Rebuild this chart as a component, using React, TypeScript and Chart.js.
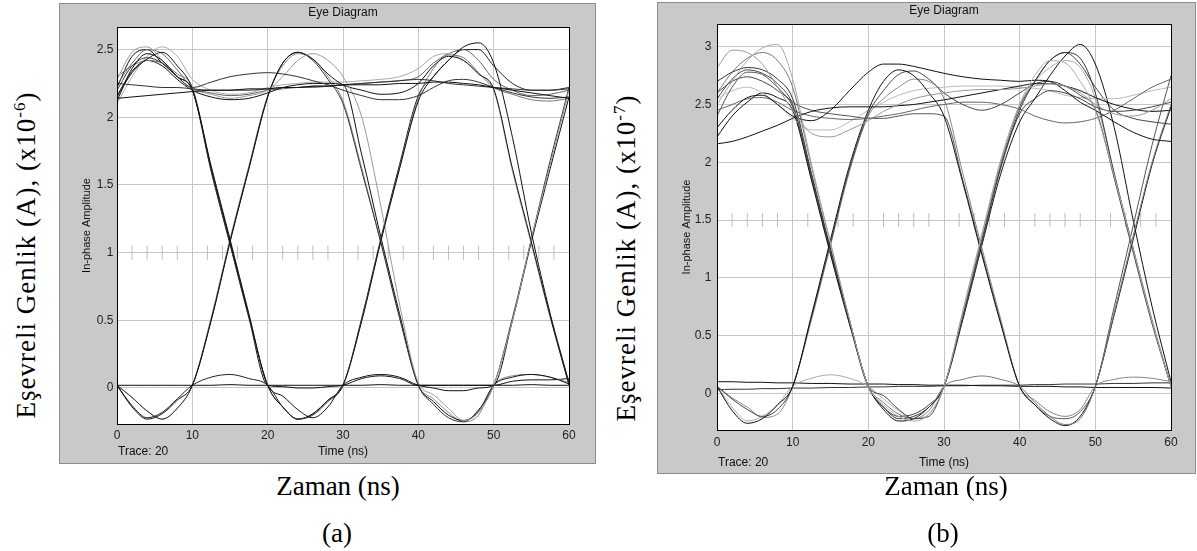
import React, { useEffect, useRef } from "react";
import { Chart, registerables } from "chart.js";

Chart.register(...registerables);

// ---------------- data ----------------
const timeNs = [0, 2, 4, 6, 8, 10, 12.5, 15, 17.5, 20, 22, 24, 26, 28, 30, 32.5, 35, 37.5, 40, 42, 44, 46, 48, 50, 52.5, 55, 57.5, 60];
const timeTicks = [0, 10, 20, 30, 40, 50, 60];
const amplitudeTicksA = [0, 0.5, 1, 1.5, 2, 2.5];
const amplitudeTicksB = [0, 0.5, 1, 1.5, 2, 2.5, 3];
const decisionMarksNs = [2, 4, 6, 8, 12, 14, 16, 18, 22, 24, 26, 28, 32, 34, 36, 38, 42, 44, 46, 48, 52, 54, 56, 58];
const decisionLevelA = 1;
const decisionLevelB = 1.5;

// panel (a) traces (x10^-6 A)
const traceA01 = [2.14, 2.15, 2.16, 2.17, 2.18, 2.19, 2.2, 2.2, 2.21, 2.21, 2.22, 2.22, 2.23, 2.23, 2.24, 2.24, 2.24, 2.25, 2.25, 2.26, 2.26, 2.25, 2.24, 2.22, 2.2, 2.18, 2.16, 2.14];
const traceA02 = [2.25, 2.24, 2.23, 2.22, 2.22, 2.21, 2.2, 2.2, 2.2, 2.21, 2.22, 2.22, 2.23, 2.23, 2.24, 2.25, 2.26, 2.27, 2.28, 2.27, 2.25, 2.24, 2.23, 2.22, 2.21, 2.2, 2.2, 2.21];
const traceA03 = [0.02, 0.02, 0.02, 0.02, 0.02, 0.02, 0.02, 0.025, 0.02, 0.02, 0.02, 0.02, 0.02, 0.02, 0.02, 0.02, 0.025, 0.02, 0.02, 0.02, 0.02, 0.02, 0.02, 0.02, 0.02, 0.025, 0.02, 0.02];
const traceA04 = [2.2, 2.38, 2.44, 2.4, 2.3, 2.22, 2.26, 2.3, 2.32, 2.33, 2.32, 2.3, 2.27, 2.24, 2.2, 2.16, 2.13, 2.13, 2.16, 2.22, 2.27, 2.28, 2.26, 2.22, 2.18, 2.15, 2.14, 2.15];
const traceA05 = [2.12, 2.36, 2.47, 2.42, 2.3, 2.2, 1.62, 1.08, 0.53, 0.02, -0.14, -0.23, -0.19, -0.09, 0.02, 0.5, 1.08, 1.62, 2.12, 2.3, 2.42, 2.52, 2.55, 2.4, 1.85, 1.15, 0.55, 0.04];
const traceA06 = [2.28, 2.48, 2.52, 2.42, 2.3, 2.21, 2.17, 2.14, 2.16, 2.2, 2.3, 2.42, 2.47, 2.42, 2.3, 2.0, 1.35, 0.62, 0.04, -0.05, -0.15, -0.24, -0.18, 0.02, 0.5, 1.1, 1.65, 2.2];
const traceA07 = [0.02, -0.14, -0.23, -0.19, -0.09, 0.02, 0.5, 1.08, 1.62, 2.15, 2.4, 2.48, 2.43, 2.32, 2.24, 2.2, 2.17, 2.18, 2.25, 2.38, 2.45, 2.42, 2.32, 2.21, 1.62, 1.08, 0.53, 0.02];
const traceA08 = [0.02, -0.07, -0.17, -0.23, -0.15, 0.02, 0.5, 1.08, 1.62, 2.15, 2.4, 2.48, 2.42, 2.28, 2.1, 1.6, 1.08, 0.52, 0.02, -0.12, -0.22, -0.25, -0.16, 0.02, 0.52, 1.1, 1.68, 2.22];
const traceA09 = [2.15, 2.33, 2.43, 2.48, 2.38, 2.21, 1.64, 1.1, 0.55, 0.02, -0.06, -0.16, -0.22, -0.14, 0.02, 0.08, 0.1, 0.08, 0.02, 0.0, -0.02, -0.02, 0.0, 0.02, 0.5, 1.08, 1.62, 2.15];
const traceA10 = [2.3, 2.38, 2.42, 2.4, 2.32, 2.22, 1.62, 1.08, 0.53, 0.02, -0.14, -0.23, -0.19, -0.09, 0.02, 0.5, 1.08, 1.62, 2.14, 2.36, 2.46, 2.44, 2.33, 2.22, 2.17, 2.13, 2.12, 2.14];
const traceA11 = [2.1, 2.3, 2.45, 2.52, 2.45, 2.28, 2.2, 2.17, 2.18, 2.22, 2.24, 2.25, 2.26, 2.26, 2.26, 2.27, 2.28, 2.3, 2.36, 2.45, 2.47, 2.42, 2.32, 2.2, 1.6, 1.06, 0.52, 0.03];
const traceA12 = [2.16, 2.34, 2.42, 2.38, 2.28, 2.2, 2.15, 2.13, 2.14, 2.18, 2.22, 2.24, 2.25, 2.25, 2.24, 1.72, 1.12, 0.55, 0.02, -0.1, -0.2, -0.24, -0.17, 0.02, 0.08, 0.1, 0.08, 0.03];
const traceA13 = [2.24, 2.4, 2.5, 2.47, 2.35, 2.22, 2.18, 2.16, 2.17, 2.2, 2.21, 2.22, 2.22, 2.23, 2.24, 2.25, 2.26, 2.27, 2.3, 2.4, 2.47, 2.5, 2.42, 2.28, 2.2, 2.16, 2.17, 2.2];
const traceA14 = [0.02, -0.13, -0.22, -0.18, -0.08, 0.02, 0.08, 0.1, 0.07, 0.02, -0.14, -0.23, -0.2, -0.1, 0.02, 0.52, 1.1, 1.65, 2.16, 2.3, 2.42, 2.5, 2.5, 2.38, 2.25, 2.2, 2.2, 2.22];
const traceA15 = [0.02, -0.07, -0.17, -0.23, -0.15, 0.02, 0.52, 1.1, 1.64, 2.16, 2.38, 2.47, 2.43, 2.3, 2.12, 1.62, 1.08, 0.52, 0.02, -0.08, -0.18, -0.25, -0.2, 0.02, 0.09, 0.1, 0.08, 0.04];
const traceA16 = [2.22, 2.45, 2.5, 2.4, 2.3, 2.2, 1.6, 1.06, 0.52, 0.02, 0.01, 0.0, 0.0, 0.01, 0.02, 0.07, 0.09, 0.07, 0.02, 0.02, 0.02, 0.02, 0.02, 0.02, 0.05, 0.06, 0.06, 0.07];

// panel (b) traces (x10^-7 A)
const traceB01 = [2.5, 2.7, 2.88, 2.99, 3.02, 2.72, 1.98, 1.3, 0.64, 0.06, -0.1, -0.2, -0.24, -0.18, 0.06, 0.7, 1.36, 2.0, 2.5, 2.75, 2.88, 2.86, 2.7, 2.45, 1.88, 1.25, 0.62, 0.06];
const traceB02 = [2.82, 2.97, 2.95, 2.85, 2.65, 2.45, 2.25, 2.22, 2.28, 2.36, 2.44, 2.5, 2.55, 2.58, 2.6, 2.62, 2.63, 2.63, 2.64, 2.66, 2.68, 2.66, 2.6, 2.5, 2.42, 2.4, 2.45, 2.55];
const traceB03 = [2.7, 2.78, 2.82, 2.8, 2.72, 2.55, 1.9, 1.25, 0.63, 0.06, -0.12, -0.22, -0.2, -0.12, 0.06, 0.68, 1.33, 1.97, 2.45, 2.7, 2.88, 2.95, 2.9, 2.6, 1.9, 1.25, 0.62, 0.06];
const traceB04 = [2.3, 2.45, 2.56, 2.58, 2.5, 2.4, 2.36, 2.45, 2.62, 2.78, 2.85, 2.85, 2.83, 2.8, 2.77, 2.74, 2.72, 2.71, 2.7, 2.71, 2.7, 2.62, 2.52, 2.45, 2.35, 2.26, 2.2, 2.18];
const traceB05 = [2.55, 2.72, 2.8, 2.77, 2.68, 2.5, 1.88, 1.24, 0.63, 0.06, -0.02, -0.14, -0.22, -0.2, 0.06, 0.66, 1.3, 1.95, 2.42, 2.55, 2.62, 2.6, 2.55, 2.48, 2.44, 2.45, 2.48, 2.52];
const traceB06 = [2.6, 2.78, 2.9, 2.95, 2.88, 2.65, 1.96, 1.3, 0.64, 0.06, -0.08, -0.18, -0.22, -0.15, 0.06, 0.12, 0.15, 0.12, 0.06, -0.08, -0.2, -0.27, -0.22, 0.06, 0.7, 1.36, 2.0, 2.5];
const traceB07 = [2.16, 2.18, 2.22, 2.27, 2.32, 2.38, 2.44, 2.47, 2.48, 2.48, 2.48, 2.49, 2.5, 2.52, 2.54, 2.57, 2.6, 2.63, 2.66, 2.68, 2.68, 2.66, 2.62, 2.56, 2.5, 2.46, 2.44, 2.45];
const traceB08 = [2.45, 2.5, 2.55, 2.56, 2.52, 2.45, 2.4, 2.38, 2.37, 2.38, 2.4, 2.42, 2.45, 2.48, 2.5, 2.52, 2.52, 2.5, 2.46, 2.4, 2.36, 2.34, 2.35, 2.38, 2.45, 2.55, 2.65, 2.72];
const traceB09 = [0.06, -0.15, -0.26, -0.22, -0.1, 0.06, 0.68, 1.33, 1.97, 2.45, 2.7, 2.8, 2.75, 2.6, 2.4, 1.82, 1.2, 0.6, 0.06, -0.1, -0.22, -0.28, -0.2, 0.06, 0.68, 1.33, 1.98, 2.48];
const traceB10 = [0.06, -0.05, -0.14, -0.2, -0.14, 0.06, 0.66, 1.3, 1.94, 2.42, 2.62, 2.76, 2.79, 2.72, 2.6, 2.5, 2.45, 2.5, 2.6, 2.68, 2.7, 2.66, 2.58, 2.46, 1.86, 1.22, 0.6, 0.06];
const traceB11 = [0.06, -0.12, -0.24, -0.2, -0.1, 0.06, 0.13, 0.16, 0.13, 0.06, -0.05, -0.15, -0.22, -0.18, 0.06, 0.72, 1.38, 2.02, 2.5, 2.7, 2.82, 2.88, 2.82, 2.55, 1.9, 1.26, 0.64, 0.06];
const traceB12 = [0.06, -0.04, -0.12, -0.21, -0.18, 0.06, 0.64, 1.28, 1.92, 2.4, 2.55, 2.65, 2.72, 2.7, 2.55, 1.9, 1.26, 0.64, 0.06, -0.06, -0.16, -0.2, -0.14, 0.06, 0.12, 0.14, 0.13, 0.1];
const traceB13 = [0.1, 0.1, 0.095, 0.095, 0.09, 0.09, 0.085, 0.085, 0.08, 0.08, 0.08, 0.075, 0.075, 0.07, 0.07, 0.07, 0.065, 0.065, 0.06, 0.06, 0.06, 0.055, 0.055, 0.05, 0.05, 0.05, 0.05, 0.045];
const traceB14 = [0.03, 0.035, 0.035, 0.04, 0.04, 0.045, 0.045, 0.05, 0.05, 0.055, 0.055, 0.06, 0.06, 0.06, 0.065, 0.065, 0.07, 0.07, 0.07, 0.075, 0.075, 0.08, 0.08, 0.08, 0.085, 0.085, 0.09, 0.09];
const traceB15 = [2.4, 2.65, 2.78, 2.76, 2.65, 2.52, 2.45, 2.42, 2.4, 2.38, 2.38, 2.4, 2.42, 2.42, 2.4, 1.84, 1.22, 0.62, 0.06, -0.1, -0.2, -0.22, -0.16, 0.06, 0.75, 1.45, 2.15, 2.75];
const traceB16 = [2.55, 2.62, 2.65, 2.6, 2.5, 2.38, 2.28, 2.28, 2.35, 2.45, 2.52, 2.58, 2.62, 2.64, 2.65, 2.66, 2.66, 2.66, 2.65, 2.64, 2.62, 2.58, 2.56, 2.55, 2.55, 2.58, 2.62, 2.65];
const traceB17 = [2.22, 2.4, 2.52, 2.6, 2.56, 2.45, 1.84, 1.2, 0.6, 0.06, -0.14, -0.24, -0.22, -0.12, 0.06, 0.64, 1.28, 1.9, 2.35, 2.55, 2.75, 2.92, 3.02, 2.85, 2.3, 1.5, 0.75, 0.1];
const traceB18 = [2.6, 2.7, 2.74, 2.7, 2.62, 2.48, 1.86, 1.22, 0.62, 0.06, -0.12, -0.2, -0.18, -0.1, 0.06, 0.7, 1.36, 2.0, 2.48, 2.7, 2.88, 2.95, 2.85, 2.65, 2.45, 2.38, 2.35, 2.33];

const tracesA = [traceA01, traceA02, traceA03, traceA04, traceA05, traceA06, traceA07, traceA08, traceA09, traceA10, traceA11, traceA12, traceA13, traceA14, traceA15, traceA16];
const tracesB = [traceB01, traceB02, traceB03, traceB04, traceB05, traceB06, traceB07, traceB08, traceB09, traceB10, traceB11, traceB12, traceB13, traceB14, traceB15, traceB16, traceB17, traceB18];

// ---------------- styles ----------------
const SANS = '"Liberation Sans", Arial, Helvetica, sans-serif';
const SERIF = '"Liberation Serif", "Times New Roman", Times, serif';
const colorsA = ["#111", "#333", "#111", "#333", "#111", "#999", "#111", "#333", "#111", "#777", "#aaa", "#111", "#666", "#222", "#888", "#111"];
const colorsB = ["#aaa", "#999", "#333", "#111", "#444", "#777", "#111", "#666", "#111", "#444", "#aaa", "#888", "#111", "#333", "#555", "#bbb", "#111", "#444"];

type PanelSpec = {
  left: number; top: number; width: number; height: number;
  yMin: number; yMax: number; yTicks: number[];
  traces: number[][]; colors: string[]; level: number;
  yAxisW: number; xAxisH: number; rightPad: number; topPad: number;
  xTickPad: number; yTickPad: number; xTitlePad: number; yTitlePad: number;
  titleY: number; traceY: number;
};

const panelA: PanelSpec = {
  left: 60, top: 4, width: 535, height: 459,
  yMin: -0.266, yMax: 2.667, yTicks: amplitudeTicksA,
  traces: tracesA, colors: colorsA, level: decisionLevelA,
  yAxisW: 57, xAxisH: 39, rightPad: 26, topPad: 23,
  xTickPad: 4.5, yTickPad: 3.5, xTitlePad: 4.3, yTitlePad: 20.4,
  titleY: 9, traceY: 448,
};

const panelB: PanelSpec = {
  left: 658, top: 3, width: 537, height: 470,
  yMin: -0.318, yMax: 3.197, yTicks: amplitudeTicksB,
  traces: tracesB, colors: colorsB, level: decisionLevelB,
  yAxisW: 59, xAxisH: 43, rightPad: 24, topPad: 21,
  xTickPad: 5.6, yTickPad: 5.5, xTitlePad: 3.3, yTitlePad: 22.4,
  titleY: 8, traceY: 459.5,
};

const alignPx = (p: number) => Math.round(p - 0.5) + 0.5;

const panelDecor = {
  id: "panelDecor",
  beforeDraw(chart: any) {
    const { ctx, chartArea: a } = chart;
    ctx.save();
    ctx.fillStyle = "#ffffff";
    ctx.fillRect(a.left, a.top, a.right - a.left, a.bottom - a.top);
    ctx.restore();
  },
  afterDraw(chart: any, _args: any, opts: any) {
    const { ctx, chartArea: a } = chart;
    ctx.save();
    ctx.strokeStyle = "#000";
    ctx.lineWidth = 1;
    const l = alignPx(a.left), t = alignPx(a.top), r = alignPx(a.right), b = alignPx(a.bottom);
    ctx.strokeRect(l, t, r - l, b - t);
    ctx.fillStyle = "#111";
    ctx.font = `12px ${SANS}`;
    ctx.textBaseline = "middle";
    ctx.textAlign = "center";
    ctx.fillText("Eye Diagram", (a.left + a.right) / 2, opts.titleY);
    ctx.textAlign = "left";
    ctx.fillText("Trace: 20", a.left + 1, opts.traceY);
    ctx.restore();
  },
};

function buildConfig(spec: PanelSpec): any {
  const tickFont = { family: SANS, size: 12 };
  const traceSets = spec.traces.map((values, i) => ({
    type: "line",
    data: values.map((y, k) => ({ x: timeNs[k], y })),
    borderColor: spec.colors[i],
    borderWidth: 1,
    pointRadius: 0,
    fill: false,
    cubicInterpolationMode: "monotone",
    order: 1,
  }));
  const marks = {
    type: "line",
    data: decisionMarksNs.map((x) => ({ x, y: spec.level })),
    showLine: false,
    pointStyle: "line",
    pointRadius: 7,
    pointRotation: 90,
    pointBorderColor: "#bdbdbd",
    pointBorderWidth: 1,
    borderColor: "#bdbdbd",
    order: 5,
  };
  return {
    type: "line",
    data: { datasets: [marks, ...traceSets] },
    plugins: [panelDecor],
    options: {
      animation: false,
      responsive: false,
      maintainAspectRatio: false,
      events: [],
      layout: { padding: { top: spec.topPad, right: spec.rightPad, bottom: 0, left: 0 } },
      plugins: {
        legend: { display: false },
        tooltip: { enabled: false },
        title: { display: false },
        panelDecor: { titleY: spec.titleY, traceY: spec.traceY },
      },
      scales: {
        x: {
          type: "linear",
          min: 0,
          max: 60,
          afterBuildTicks: (s: any) => { s.ticks = timeTicks.map((v) => ({ value: v })); },
          afterFit: (s: any) => { s.height = spec.xAxisH; },
          ticks: { font: tickFont, color: "#222", padding: spec.xTickPad, maxRotation: 0, autoSkip: false, callback: (v: any) => String(v) },
          grid: { color: "#c6c6c6", lineWidth: 1, drawTicks: false },
          border: { display: true, color: "#000", width: 1 },
          title: { display: true, text: "Time (ns)", font: { family: SANS, size: 12 }, color: "#111", padding: { top: 0, bottom: spec.xTitlePad } },
        },
        y: {
          type: "linear",
          min: spec.yMin,
          max: spec.yMax,
          afterBuildTicks: (s: any) => { s.ticks = spec.yTicks.map((v) => ({ value: v })); },
          afterFit: (s: any) => { s.width = spec.yAxisW; },
          ticks: { font: tickFont, color: "#222", padding: spec.yTickPad, autoSkip: false, callback: (v: any) => String(v) },
          grid: { color: "#c6c6c6", lineWidth: 1, drawTicks: false },
          border: { display: true, color: "#000", width: 1 },
          title: { display: true, text: "In-phase Amplitude", font: { family: SANS, size: 11 }, color: "#111", padding: { top: spec.yTitlePad, bottom: 0 } },
        },
      },
    },
  };
}

function EyePanel({ spec }: { spec: PanelSpec }) {
  const ref = useRef<HTMLCanvasElement | null>(null);
  useEffect(() => {
    if (!ref.current) return;
    const chart = new Chart(ref.current, buildConfig(spec));
    return () => chart.destroy();
  }, [spec]);
  return (
    <>
      <div
        style={{
          position: "absolute",
          left: spec.left - 1,
          top: spec.top - 1,
          width: spec.width + 2,
          height: spec.height + 2,
          boxSizing: "border-box",
          border: "1px solid #8c8c8c",
          background: "#c9c9c9",
        }}
      />
      <canvas
        ref={ref}
        width={spec.width}
        height={spec.height}
        style={{ position: "absolute", left: spec.left, top: spec.top, width: spec.width, height: spec.height }}
      />
    </>
  );
}

const serifText: React.CSSProperties = {
  position: "absolute",
  fontFamily: SERIF,
  fontSize: 27,
  lineHeight: 1,
  color: "#000",
  whiteSpace: "nowrap",
};

function Centered({ x, y, children, rotate }: { x: number; y: number; children: React.ReactNode; rotate?: boolean }) {
  return (
    <div
      style={{
        ...serifText,
        left: x,
        top: y,
        transform: rotate ? "translate(-50%, -50%) rotate(-90deg)" : "translate(-50%, -50%)",
        letterSpacing: rotate ? "1px" : undefined,
      }}
    >
      {children}
    </div>
  );
}

export default function App() {
  useEffect(() => {
    document.body.style.margin = "0";
  }, []);
  return (
    <div style={{ position: "absolute", left: 0, top: 0, width: 1197, height: 551, background: "#fff", overflow: "hidden" }}>
      <EyePanel spec={panelA} />
      <EyePanel spec={panelB} />
      <Centered x={26} y={255} rotate>
        Eşevreli Genlik (A), (x10<sup style={{ fontSize: 17, lineHeight: 0 }}>-6</sup>)
      </Centered>
      <Centered x={626} y={258} rotate>
        Eşevreli Genlik (A), (x10<sup style={{ fontSize: 17, lineHeight: 0 }}>-7</sup>)
      </Centered>
      <Centered x={338} y={486}>Zaman (ns)</Centered>
      <Centered x={337} y={533}>(a)</Centered>
      <Centered x={946} y={486}>Zaman (ns)</Centered>
      <Centered x={943} y={533}>(b)</Centered>
    </div>
  );
}
